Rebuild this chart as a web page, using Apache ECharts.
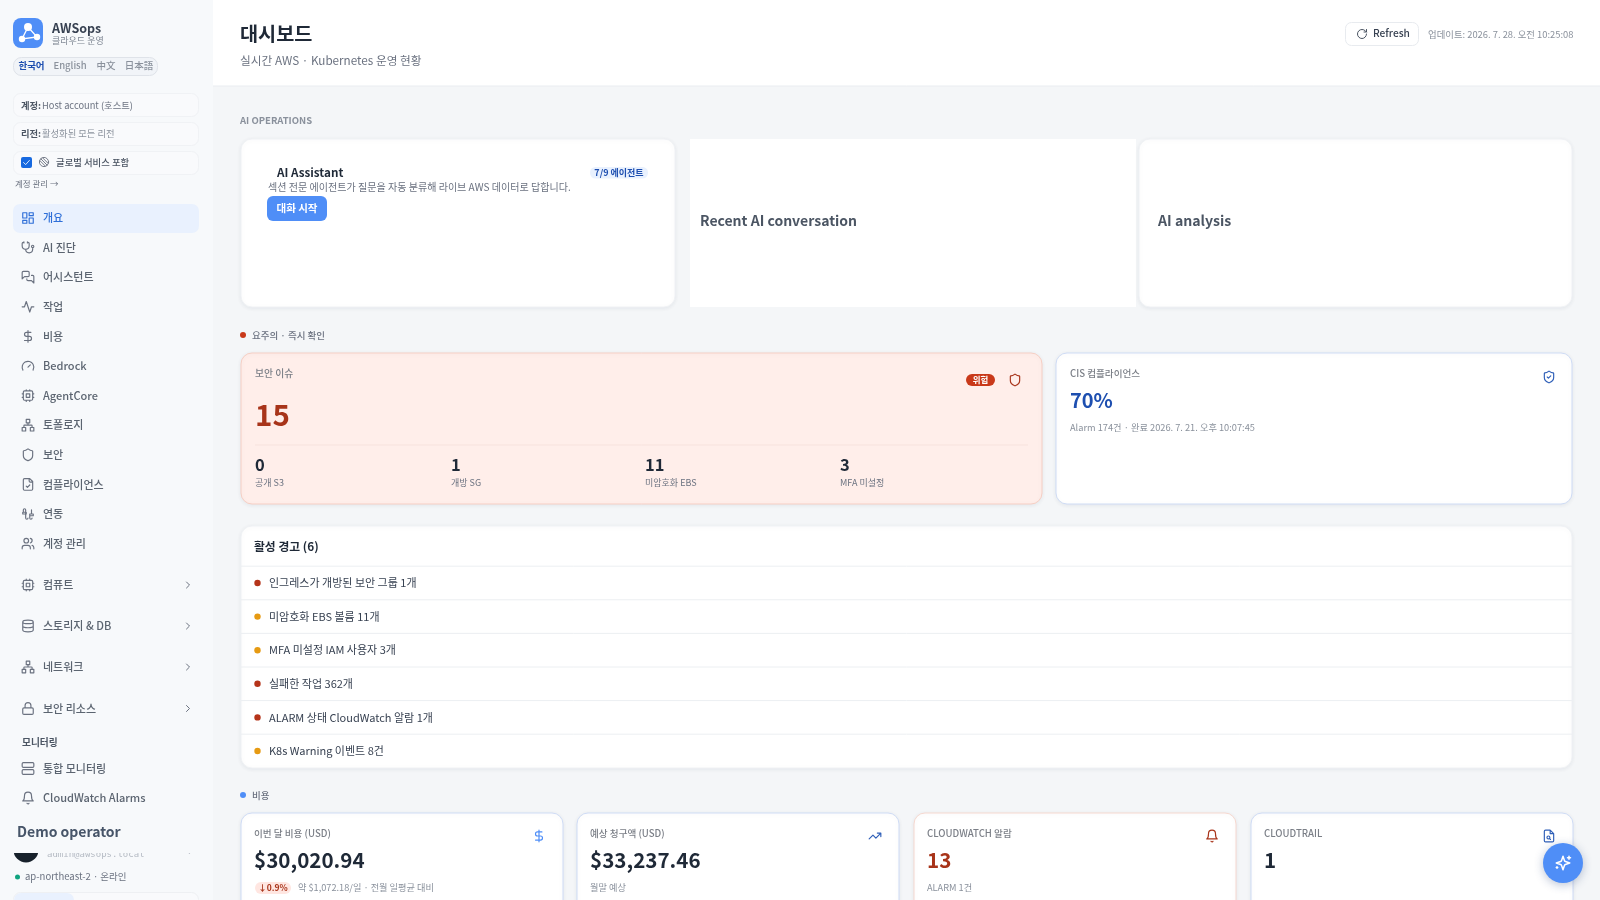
<!DOCTYPE html>
<html>
<head>
<meta charset="utf-8">
<title>AWSops</title>
<style>
  html, body { margin: 0; padding: 0; background: #f4f6f8; }
  #chart { width: 1600px; height: 900px; }
</style>
<script src="https://cdn.jsdelivr.net/npm/echarts@6/dist/echarts.min.js"></script>
</head>
<body>
<div id="chart"></div>
<script>
// 화면 내용
const langs = ['한국어', 'English', '中文', '日本語'];
const navLabels = ['개요', 'AI 진단', '어시스턴트', '작업', '비용', 'Bedrock', 'AgentCore', '토폴로지', '보안', '컴플라이언스', '연동', '계정 관리'];
const navIcons = ['dashboard', 'stethoscope', 'messages', 'activity', 'dollar', 'gauge', 'cpu', 'network', 'shield', 'fileCheck', 'cable', 'users'];
const groupLabels = ['컴퓨트', '스토리지 & DB', '네트워크', '보안 리소스'];
const groupIcons = ['cpu', 'database', 'network', 'lock'];
const monitorLabels = ['통합 모니터링', 'CloudWatch Alarms'];
const monitorIcons = ['server', 'bell'];

const securityValues = ['0', '1', '11', '3'];
const securityLabels = ['공개 S3', '개방 SG', '미암호화 EBS', 'MFA 미설정'];

const alertLabels = ['인그레스가 개방된 보안 그룹 1개', '미암호화 EBS 볼륨 11개', 'MFA 미설정 IAM 사용자 3개', '실패한 작업 362개', 'ALARM 상태 CloudWatch 알람 1개', 'K8s Warning 이벤트 8건'];
const alertLevels = ['red', 'amber', 'amber', 'red', 'red', 'amber'];

const costLabels = ['이번 달 비용 (USD)', '예상 청구액 (USD)', 'CLOUDWATCH 알람', 'CLOUDTRAIL'];
const costValues = ['$30,020.94', '$33,237.46', '13', '1'];
const costNotes = ['약 $1,072.18/일 · 전월 일평균 대비', '월말 예상', 'ALARM 1건', ''];
const costIcons = ['dollar', 'trending', 'bell', 'fileSearch'];

const FONT = '"Noto Sans CJK KR", "Noto Sans", sans-serif';
const BLUE = '#4f8ef7';
const RED = '#a8341a';
const paths = {
  dashboard: 'M3 3h7v9H3zM14 3h7v5h-7zM14 12h7v9h-7zM3 16h7v5H3z',
  stethoscope: 'M11 2v2M5 2v2M5 3H4a2 2 0 0 0-2 2v4a6 6 0 0 0 12 0V5a2 2 0 0 0-2-2h-1M8 15a6 6 0 0 0 12 0v-3M22 10a2 2 0 1 1-4 0 2 2 0 1 1 4 0z',
  messages: 'M14 9a2 2 0 0 1-2 2H6l-4 4V4a2 2 0 0 1 2-2h8a2 2 0 0 1 2 2zM18 9h2a2 2 0 0 1 2 2v11l-4-4h-6a2 2 0 0 1-2-2v-1',
  activity: 'M22 12h-4l-3 9L9 3l-3 9H2',
  dollar: 'M12 2v20M17 5H9.5a3.5 3.5 0 0 0 0 7h5a3.5 3.5 0 0 1 0 7H6',
  gauge: 'M12 14l4-4M3.34 19a10 10 0 1 1 17.32 0',
  cpu: 'M6 4h12a2 2 0 0 1 2 2v12a2 2 0 0 1-2 2H6a2 2 0 0 1-2-2V6a2 2 0 0 1 2-2zM9 9h6v6H9zM15 2v2M15 20v2M2 15h2M2 9h2M20 15h2M20 9h2M9 2v2M9 20v2',
  network: 'M9 2h6v6H9zM2 16h6v6H2zM16 16h6v6h-6zM5 16v-3a1 1 0 0 1 1-1h12a1 1 0 0 1 1 1v3M12 12V8',
  shield: 'M20 13c0 5-3.5 7.5-7.66 8.95a1 1 0 0 1-.67-.01C7.5 20.5 4 18 4 13V6a1 1 0 0 1 1-1c2 0 4.5-1.2 6.24-2.72a1.17 1.17 0 0 1 1.52 0C14.51 3.81 17 5 19 5a1 1 0 0 1 1 1z',
  shieldCheck: 'M20 13c0 5-3.5 7.5-7.66 8.95a1 1 0 0 1-.67-.01C7.5 20.5 4 18 4 13V6a1 1 0 0 1 1-1c2 0 4.5-1.2 6.24-2.72a1.17 1.17 0 0 1 1.52 0C14.51 3.81 17 5 19 5a1 1 0 0 1 1 1zM9 12l2 2 4-4',
  fileCheck: 'M15 2H6a2 2 0 0 0-2 2v16a2 2 0 0 0 2 2h12a2 2 0 0 0 2-2V7zM14 2v4a2 2 0 0 0 2 2h4M9 15l2 2 4-4',
  cable: 'M4 9V5a2 2 0 0 1 4 0v14a2 2 0 0 0 4 0M3 9h6v3H3zM15 15v4a2 2 0 0 0 4 0M15 12h6v3h-6zM18 12V5',
  users: 'M16 21v-2a4 4 0 0 0-4-4H6a4 4 0 0 0-4 4v2M13 7a4 4 0 1 1-8 0 4 4 0 1 1 8 0zM22 21v-2a4 4 0 0 0-3-3.87M16 3.13a4 4 0 0 1 0 7.75',
  database: 'M3 5a9 3 0 1 0 18 0a9 3 0 1 0-18 0M3 5v14a9 3 0 0 0 18 0V5M3 12a9 3 0 0 0 18 0',
  lock: 'M5 11h14a2 2 0 0 1 2 2v7a2 2 0 0 1-2 2H5a2 2 0 0 1-2-2v-7a2 2 0 0 1 2-2zM7 11V7a5 5 0 0 1 10 0v4',
  server: 'M4 2h16a2 2 0 0 1 2 2v4a2 2 0 0 1-2 2H4a2 2 0 0 1-2-2V4a2 2 0 0 1 2-2zM4 14h16a2 2 0 0 1 2 2v4a2 2 0 0 1-2 2H4a2 2 0 0 1-2-2v-4a2 2 0 0 1 2-2z',
  bell: 'M6 8a6 6 0 0 1 12 0c0 7 3 9 3 9H3s3-2 3-9M10.3 21a1.94 1.94 0 0 0 3.4 0',
  chevron: 'M9 18l6-6-6-6',
  refresh: 'M21 12a9 9 0 1 1-9-9c2.52 0 4.93 1 6.74 2.74L21 8M21 3v5h-5',
  trending: 'M22 7l-8.5 8.5-5-5L2 17M16 7h6v6',
  fileSearch: 'M14 2H6a2 2 0 0 0-2 2v16a2 2 0 0 0 2 2h12a2 2 0 0 0 2-2V8zM14 2v6h6M13.5 14.5a2.5 2.5 0 1 1-5 0 2.5 2.5 0 1 1 5 0zM13 16.5l1.5 1.5',
  sparkles: 'M12 3l1.9 5.8a2 2 0 0 0 1.3 1.3L21 12l-5.8 1.9a2 2 0 0 0-1.3 1.3L12 21l-1.9-5.8a2 2 0 0 0-1.3-1.3L3 12l5.8-1.9a2 2 0 0 0 1.3-1.3zM20 3v4M22 5h-4M4 17v2M5 18H3',
  globe: 'M22 12a10 10 0 1 1-20 0 10 10 0 1 1 20 0zM5 5l14 14M9 3l12 12M3 9l12 12',
  check: 'M5 12l5 5 9-10'
};

// graphic 컴포넌트는 type: 'path' 를 받지 않아서 아이콘별로 등록
Object.keys(paths).forEach((name) => {
  echarts.graphic.registerShape('icon_' + name, echarts.graphic.extendPath(paths[name], {}));
});

const els = [];

function rect(x, y, width, height, fill, opts = {}) {
  els.push({
    type: 'rect',
    shape: { x, y, width, height, r: opts.r || 0 },
    style: {
      fill,
      stroke: opts.stroke || null,
      lineWidth: opts.lw === undefined ? 1 : opts.lw,
      shadowBlur: opts.blur || 0,
      shadowColor: opts.shadow || 'rgba(0,0,0,0)',
      shadowOffsetY: opts.blur ? 1 : 0
    }
  });
}

function label(text, x, y, size, fill, weight, align) {
  els.push({
    type: 'text', x, y,
    style: {
      text, fill,
      font: `${weight || 400} ${size}px ${FONT}`,
      align: align || 'left',
      verticalAlign: 'middle'
    }
  });
}

function icon(name, cx, cy, size, stroke) {
  const s = size / 24;
  els.push({
    type: 'icon_' + name,
    x: cx - size / 2, y: cy - size / 2, scaleX: s, scaleY: s,
    style: { fill: 'none', stroke, lineWidth: 2, lineCap: 'round', lineJoin: 'round' }
  });
}

function dot(cx, cy, r, fill) {
  els.push({ type: 'circle', shape: { cx, cy, r }, style: { fill } });
}

function hline(x1, x2, y, stroke) {
  els.push({ type: 'line', shape: { x1, y1: y, x2, y2: y }, style: { stroke, lineWidth: 1 } });
}

function card(x, y, w, h, stroke, fill) {
  rect(x, y, w, h, fill || '#ffffff', { r: 11, stroke, lw: 1, blur: 4, shadow: 'rgba(30,50,90,0.07)' });
}

// 배경
rect(0, 0, 1600, 900, '#f4f6f8');

// 사이드바
rect(0, 0, 213, 900, '#f7f9fb');
rect(13, 18, 30, 30, BLUE, { r: 8 });
dot(28, 27, 4, '#ffffff');
dot(22, 39, 3.2, '#ffffff');
dot(37, 37, 3.2, '#ffffff');
els.push({ type: 'polyline', shape: { points: [[28, 27], [22, 39], [37, 37], [28, 27]] }, style: { fill: 'none', stroke: '#ffffff', lineWidth: 1.3 } });
label('AWSops', 52, 28, 12.5, '#374151', 600);
label('클라우드 운영', 52, 41, 9, '#7b8390');

rect(13.5, 57.5, 144, 18, '#f1f4f8', { r: 8, stroke: '#dfe3e9' });
const langX = [31.5, 70, 106, 139];
langs.forEach((t, i) => label(t, langX[i], 65.5, 9.5, i === 0 ? '#1e4fb0' : '#8a919c', i === 0 ? 700 : 500, 'center'));

rect(13.5, 93.5, 185, 23, '#f9fafc', { r: 7, stroke: '#f0f2f5' });
label('계정:', 21, 105, 9.3, '#4b5563', 700);
label('Host account (호스트)', 42, 105, 9.3, '#6b7280');
rect(13.5, 122.5, 185, 23, '#f9fafc', { r: 7, stroke: '#f0f2f5' });
label('리전:', 21, 133, 9.3, '#4b5563', 700);
label('활성화된 모든 리전', 42, 133, 9.3, '#8a919c');
rect(13.5, 151.5, 185, 23, '#f9fafc', { r: 7, stroke: '#f0f2f5' });
rect(21, 157, 11, 11, '#1769e0', { r: 2 });
icon('check', 26.5, 162.5, 10, '#ffffff');
icon('globe', 44, 162, 11, '#6b7280');
label('글로벌 서비스 포함', 56, 162, 9.4, '#4b5563', 500);
label('계정 관리 →', 15, 184, 8.5, '#6b7280');

rect(13, 204, 186, 29, '#e9f1fe', { r: 7 });
const navStart = 218, navStep = 29.6;
navLabels.forEach((t, i) => {
  const y = navStart + i * navStep;
  icon(navIcons[i], 28, y, 14, i === 0 ? '#2f6fd8' : '#6b7280');
  label(t, 43, y, 11, i === 0 ? '#2f6fd8' : '#5b6470', 500);
});
const groupY = [585, 626, 667, 708.5];
groupLabels.forEach((t, i) => {
  icon(groupIcons[i], 28, groupY[i], 14, '#6b7280');
  label(t, 43, groupY[i], 11, '#5b6470', 500);
  icon('chevron', 188, groupY[i], 12, '#6b7280');
});
label('모니터링', 22, 742, 9.7, '#4b5563', 700);
const monitorY = [768.5, 798];
monitorLabels.forEach((t, i) => {
  icon(monitorIcons[i], 28, monitorY[i], 14, '#6b7280');
  label(t, 43, monitorY[i], 11, '#5b6470', 500);
});

// 하단 사용자 영역
dot(26, 850, 12.5, '#17212b');
els.push({
  type: 'text', x: 47, y: 855,
  style: { text: 'admin@awsops.local', fill: '#b4bac3', font: '9px "DejaVu Sans Mono", monospace', verticalAlign: 'middle' }
});
label('~', 186, 853, 9, '#9ca3af');
rect(0, 815, 212, 38, '#f7f9fb');
label('Demo operator', 17, 832, 14, '#475569', 700);
dot(17.5, 877, 2.5, '#10a37f');
label('ap-northeast-2 · 온라인', 25, 876, 9.5, '#6b7280');
rect(13.5, 892.5, 185, 20, '#f9fafc', { r: 7, stroke: '#eef0f3' });
rect(14, 893, 60, 20, '#e9f1fe', { r: 7 });

// 헤더
rect(213, 0, 1387, 86, '#ffffff');
hline(213, 1600, 86, '#e9ecf0');
label('대시보드', 240, 34, 19.7, '#1f2937', 700);
label('실시간 AWS · Kubernetes 운영 현황', 240, 60.5, 11.7, '#6b7280');
rect(1345.5, 22.5, 73, 23, '#ffffff', { r: 6, stroke: '#e8ebef' });
icon('refresh', 1362, 34, 12, '#4b5563');
label('Refresh', 1373, 33.5, 10.2, '#374151', 500);
label('업데이트: 2026. 7. 28. 오전 10:25:08', 1428, 34, 9.4, '#8a919c');

// AI OPERATIONS
label('AI OPERATIONS', 240, 120, 9.5, '#8a919c', 700);
card(241, 139, 434, 168, '#f0f2f5');
label('AI Assistant', 277, 172.5, 11.7, '#1f2937', 600);
rect(590, 167, 58, 11.5, '#e9f1fe', { r: 5.5 });
label('7/9 에이전트', 619, 172.5, 9, '#1e4fb0', 700, 'center');
label('섹션 전문 에이전트가 질문을 자동 분류해 라이브 AWS 데이터로 답합니다.', 268, 187.5, 10.05, '#6b7280');
rect(267, 196, 60, 25, BLUE, { r: 6 });
label('대화 시작', 297, 208, 10.5, '#ffffff', 700, 'center');
rect(690, 139, 446, 168, '#ffffff');
label('Recent AI conversation', 700, 221, 14, '#4b5563', 600);
card(1139, 139, 433, 168, '#f0f2f5');
label('AI analysis', 1158, 221, 14.1, '#4b5563', 600);

// 요주의
dot(243, 335, 3, '#c9391a');
label('요주의 · 즉시 확인', 252, 335, 9.5, '#6b7280', 500);
card(241, 353, 801, 151, '#f6cfc4', '#ffeeea');
label('보안 이슈', 255, 373, 9.8, '#7b7f87', 500);
label('15', 255, 415, 29.5, RED, 700);
hline(255, 1028, 445, '#f7e2dd');
const securityX = [255, 451, 645, 840];
securityValues.forEach((v, i) => {
  label(v, securityX[i], 465, 16.5, '#1f2937', 600);
  label(securityLabels[i], securityX[i], 483, 9, '#6b7280');
});
rect(966, 374, 29, 12, '#c9391a', { r: 6 });
label('위험', 980.5, 379.5, 8.5, '#ffffff', 700, 'center');
icon('shield', 1015, 380, 14, RED);

card(1056, 353, 516, 151, '#cfdcf5');
label('CIS 컴플라이언스', 1070, 373, 9.6, '#7b7f87', 500);
label('70%', 1070, 400, 20, '#1e4fb0', 700);
label('Alarm 174건 · 완료 2026. 7. 21. 오후 10:07:45', 1070, 427.5, 9.25, '#8a919c');
icon('shieldCheck', 1549, 377, 14, '#2f5fb8');

// 활성 경고
card(241, 526, 1331, 242, '#f0f2f5');
label('활성 경고 (6)', 254, 547, 11.8, '#1f2937', 700);
const alertStart = 583, alertStep = 33.6;
const levelColors = { red: '#b5341a', amber: '#e69a12' };
alertLabels.forEach((t, i) => {
  const y = alertStart + i * alertStep;
  hline(241, 1572, y - 16.8, '#eceff2');
  dot(257.5, y, 3.2, levelColors[alertLevels[i]]);
  label(t, 269, y, 11, '#374151');
});

// 비용
dot(243, 795, 3, BLUE);
label('비용', 252, 795, 9.5, '#6b7280', 500);
const costX = [241, 577, 914, 1251];
const costBorder = ['#cfdcf5', '#cfdcf5', '#f6d8cf', '#cfdcf5'];
const costIconColor = [BLUE, '#2f5fb8', RED, '#2f5fb8'];
const costValueColor = ['#1f2937', '#1f2937', RED, '#1f2937'];
costLabels.forEach((t, i) => {
  const x = costX[i];
  card(x, 813, 322, 130, costBorder[i]);
  label(t, x + 13, 833, 9.6, '#7b7f87', 500);
  label(costValues[i], x + 13, 860, 20.6, costValueColor[i], 600);
  if (i === 0) {
    rect(x + 14, 882, 36, 12, '#ffe6e1', { r: 6 });
    label('↓0.9%', x + 32, 888, 8.5, RED, 700, 'center');
    label(costNotes[i], x + 57, 888, 9.2, '#8a919c');
  } else if (costNotes[i]) {
    label(costNotes[i], x + 13, 888, 9.2, '#8a919c');
  }
  icon(costIcons[i], x + 298, 836, 14, costIconColor[i]);
});

// 플로팅 버튼
els.push({
  type: 'circle',
  shape: { cx: 1563, cy: 863, r: 20 },
  style: { fill: BLUE, shadowBlur: 10, shadowColor: 'rgba(30,60,120,0.30)', shadowOffsetY: 2 }
});
icon('sparkles', 1563, 863, 18, '#ffffff');

const myChart = echarts.init(document.getElementById('chart'));
myChart.setOption({
  animation: false,
  graphic: { elements: els.map((e) => ({ silent: true, ...e })) }
});
</script>
</body>
</html>
